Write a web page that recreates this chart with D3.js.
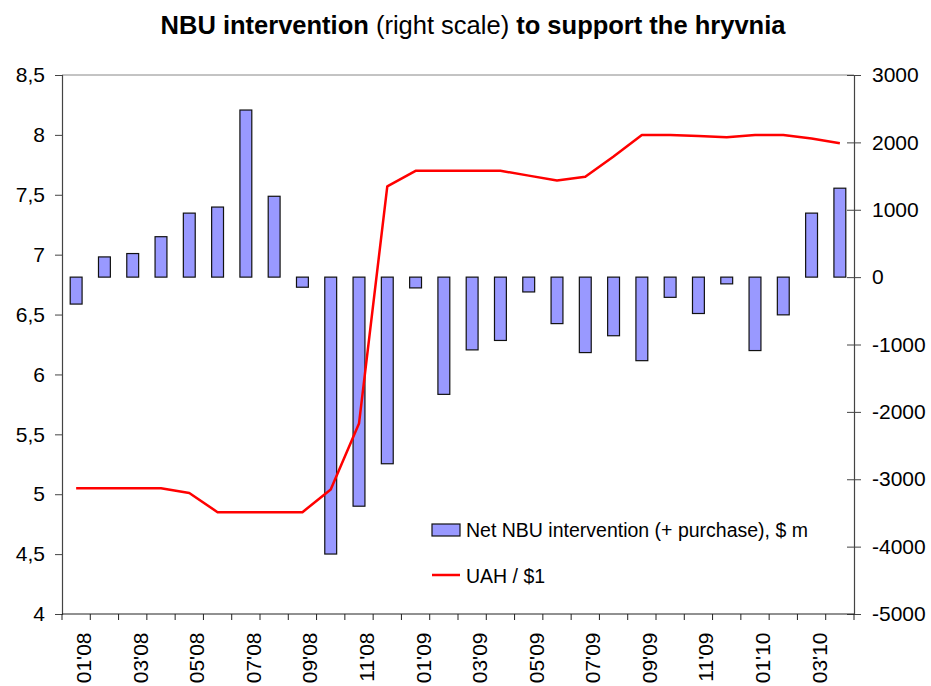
<!DOCTYPE html>
<html>
<head>
<meta charset="utf-8">
<script src="https://cdn.jsdelivr.net/npm/d3@7"></script>
<style>
  body { margin: 0; background: #fff; }
  svg { font-family: "Liberation Sans", Arial, sans-serif; }
</style>
</head>
<body>
<div id="chart"></div>
<script>
// months Jan'08 .. Apr'10
var months = ["01'08","02'08","03'08","04'08","05'08","06'08","07'08","08'08","09'08","10'08","11'08","12'08",
              "01'09","02'09","03'09","04'09","05'09","06'09","07'09","08'09","09'09","10'09","11'09","12'09",
              "01'10","02'10","03'10","04'10"];
// net NBU intervention, $ m (right scale)
var intervention = [-400, 300, 350, 600, 950, 1040, 2480, 1200, -150, -4110, -3400, -2770,
                    -160, -1740, -1080, -940, -220, -690, -1120, -870, -1240, -300, -540, -100,
                    -1090, -560, 950, 1320];
// UAH per USD (left scale)
var uah = [5.05, 5.05, 5.05, 5.05, 5.01, 4.85, 4.85, 4.85, 4.85, 5.04, 5.59, 7.57,
           7.70, 7.70, 7.70, 7.70, 7.66, 7.62, 7.65, 7.82, 8.00, 8.00, 7.99, 7.98,
           8.00, 8.00, 7.97, 7.93];
var leftTicks = [4, 4.5, 5, 5.5, 6, 6.5, 7, 7.5, 8, 8.5];
var rightTicks = [-5000, -4000, -3000, -2000, -1000, 0, 1000, 2000, 3000];

var W = 931, H = 686;
var margin = { top: 75, right: 77, bottom: 72, left: 62 };
var iw = W - margin.left - margin.right,
    ih = H - margin.top - margin.bottom;

var svg = d3.select('#chart').append('svg')
    .attr('width', W).attr('height', H);

// title
var title = svg.append('text')
    .attr('x', 473).attr('y', 34)
    .attr('text-anchor', 'middle')
    .style('font-size', '25.5px');
title.append('tspan').attr('font-weight', 'bold').text('NBU intervention');
title.append('tspan').text(' (right scale) ');
title.append('tspan').attr('font-weight', 'bold').text('to support the hryvnia');

var g = svg.append('g')
    .attr('transform', 'translate(' + margin.left + ',' + margin.top + ')');

var x = d3.scaleBand().domain(months).range([0, iw]).paddingInner(0.58).paddingOuter(0.29);
var xb = d3.scaleLinear().domain([0, months.length]).range([0, iw]);
var yL = d3.scaleLinear().domain([4, 8.5]).range([ih, 0]);
var yR = d3.scaleLinear().domain([-5000, 3000]).range([ih, 0]);

// top border line
g.append('line')
    .attr('x1', 0).attr('x2', iw).attr('y1', 0).attr('y2', 0)
    .attr('stroke', '#888').attr('stroke-width', 1);

// bars
g.selectAll('rect.bar')
    .data(intervention)
    .enter().append('rect')
    .attr('class', 'bar')
    .attr('x', function (d, i) { return x(months[i]); })
    .attr('width', x.bandwidth())
    .attr('y', function (d) { return yR(Math.max(0, d)); })
    .attr('height', function (d) { return Math.abs(yR(d) - yR(0)); })
    .attr('fill', '#9999FF')
    .attr('stroke', '#111')
    .attr('stroke-width', 1.2);

// line
var line = d3.line()
    .x(function (d, i) { return x(months[i]) + x.bandwidth() / 2; })
    .y(function (d) { return yL(d); });
g.append('path')
    .datum(uah)
    .attr('d', line)
    .attr('fill', 'none')
    .attr('stroke', '#FF0000')
    .attr('stroke-width', 2.5)
    .attr('stroke-linejoin', 'round');

// left axis
var axL = g.append('g')
    .call(d3.axisLeft(yL).tickValues(leftTicks).tickSize(7).tickPadding(10)
        .tickFormat(function (d) { return String(d).replace('.', ','); }));
// right axis
var axR = g.append('g')
    .attr('transform', 'translate(' + iw + ',0)')
    .call(d3.axisRight(yR).tickValues(rightTicks).tickSize(7).tickPadding(11)
        .tickFormat(function (d) { return d; }));
axR.selectAll('.tick line').attr('x1', -7);
// bottom axis
var axB = g.append('g')
    .attr('transform', 'translate(0,' + ih + ')');
axB.append('line').attr('x1', 0).attr('x2', iw).attr('stroke', '#222');
axB.selectAll('line.tk')
    .data(d3.range(months.length + 1))
    .enter().append('line')
    .attr('class', 'tk')
    .attr('x1', function (d) { return xb(d); })
    .attr('x2', function (d) { return xb(d); })
    .attr('y1', 0).attr('y2', 6)
    .attr('stroke', '#222');
axB.selectAll('text')
    .data(months.filter(function (m, i) { return i % 2 === 0; }))
    .enter().append('text')
    .attr('transform', function (d) {
        return 'translate(' + (x(d) + x.bandwidth() / 2 + 15) + ',18.5) rotate(-90)';
    })
    .attr('text-anchor', 'end')
    .style('font-size', '21px')
    .attr('fill', '#000')
    .text(function (d) { return d; });

[axL, axR].forEach(function (a) {
    a.select('.domain').attr('stroke', '#444').attr('stroke-width', 1.2);
    a.selectAll('.tick line').attr('stroke', '#444');
    a.selectAll('.tick text').style('font-size', '21px').attr('fill', '#000');
    a.attr('font-family', null);
});

// legend
var lg = svg.append('g');
lg.append('rect')
    .attr('x', 432).attr('y', 524).attr('width', 28).attr('height', 12)
    .attr('fill', '#9999FF').attr('stroke', '#111').attr('stroke-width', 1.2);
lg.append('text')
    .attr('x', 466).attr('y', 537)
    .style('font-size', '19.5px')
    .text('Net NBU intervention (+ purchase), $ m');
lg.append('line')
    .attr('x1', 432).attr('x2', 460).attr('y1', 575).attr('y2', 575)
    .attr('stroke', '#FF0000').attr('stroke-width', 2.5);
lg.append('text')
    .attr('x', 466).attr('y', 582.5)
    .style('font-size', '19.5px')
    .text('UAH / $1');
</script>
</body>
</html>
